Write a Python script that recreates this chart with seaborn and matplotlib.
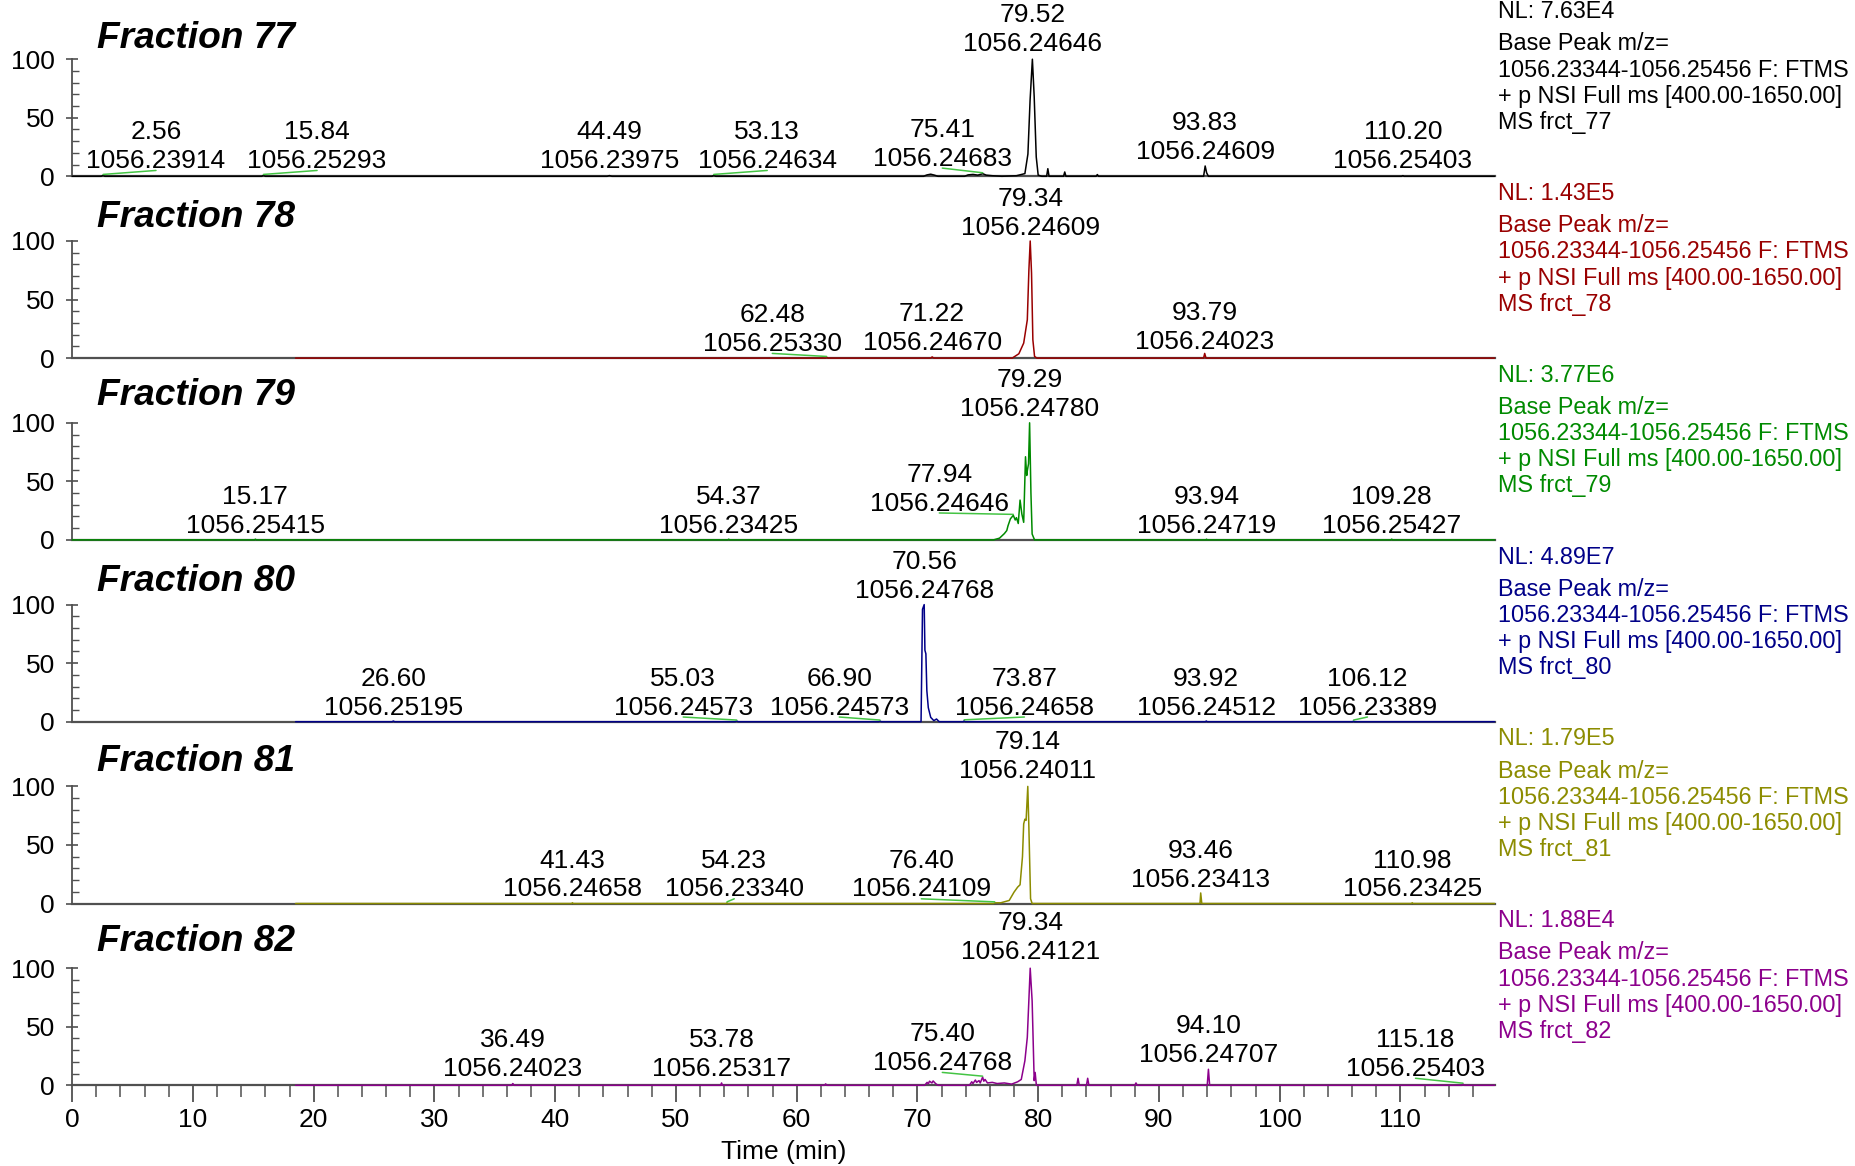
import matplotlib
matplotlib.use("Agg")
import matplotlib.pyplot as plt
from matplotlib.ticker import FixedLocator, MultipleLocator
import pandas as pd
import seaborn as sns

# ---------------------------------------------------------------------------
# Chromatogram traces (retention time in min, relative abundance in %)
# ---------------------------------------------------------------------------
f77_time = [0, 2.4, 2.56, 2.7, 15.7, 15.84, 16.0, 44.3, 44.49, 44.7, 53.0, 53.13, 53.3,
            70.5, 70.8, 71.1, 71.4, 71.7, 73.9, 74.2, 74.6, 75.0, 75.41, 75.7, 76.2, 77.0,
            78.2, 78.9, 79.15, 79.33, 79.52, 79.67, 79.84, 80.0, 80.3, 80.7, 80.8, 80.9,
            82.1, 82.2, 82.3, 84.8, 84.9, 85.0, 93.7, 93.83, 93.95, 94.1,
            110.1, 110.2, 110.3, 117.8]
f77_int = [0, 0, 0.8, 0, 0, 0.8, 0, 0, 0.6, 0, 0, 0.8, 0,
           0, 1.2, 1.8, 1.0, 0, 0, 1.2, 1.6, 1.0, 2.2, 1.0, 0.5, 0,
           0.5, 2.3, 19, 65, 100, 68, 16.5, 1, 0, 0, 6.5, 0,
           0, 3.7, 0, 0, 1.5, 0, 0, 8.8, 3, 0,
           0, 0.6, 0, 0]

f78_time = [18.5, 62.4, 62.48, 62.6, 71.1, 71.22, 71.35, 77.85, 78.4, 78.8, 79.1, 79.23,
            79.34, 79.45, 79.56, 79.7, 79.9, 93.7, 93.79, 93.9, 117.8]
f78_int = [0, 0, 0.6, 0, 0, 1.0, 0, 0, 3.7, 12.8, 32.7, 75,
           100, 72.6, 15.6, 1.4, 0, 0, 4, 0, 0]

f79_time = [0, 15.1, 15.17, 15.25, 54.3, 54.37, 54.45, 76.3, 76.8, 77.2, 77.4, 77.5, 77.7,
            77.94, 78.1, 78.2, 78.35, 78.5, 78.65, 78.8, 78.95, 79.05, 79.1, 79.2, 79.29,
            79.4, 79.5, 79.7, 93.9, 93.94, 94.0, 109.2, 109.28, 109.35, 117.8]
f79_int = [0, 0, 0.6, 0, 0, 0.6, 0, 0, 1.5, 5.4, 8, 12, 18,
           21, 17, 19, 14, 34, 22, 15, 71, 55, 59, 65, 100,
           40, 5, 0, 0, 0.6, 0, 0, 0.6, 0, 0]

f80_time = [18.5, 26.5, 26.60, 26.7, 54.9, 55.03, 55.15, 66.8, 66.90, 67.0, 70.3, 70.42,
            70.56, 70.62, 70.7, 70.78, 70.9, 71.1, 71.36, 71.58, 71.8, 73.8, 73.87, 73.95,
            93.85, 93.92, 94.0, 106.05, 106.12, 106.2, 117.8]
f80_int = [0, 0, 0.6, 0, 0, 0.6, 0, 0, 0.6, 0, 0, 96,
           100, 61, 58, 26.5, 12, 3.7, 0.9, 2.3, 0, 0, 0.8, 0,
           0, 0.6, 0, 0, 0.6, 0, 0]

f81_time = [18.5, 41.35, 41.43, 41.5, 54.15, 54.23, 54.3, 76.3, 76.40, 76.9, 77.6, 78.0,
            78.3, 78.5, 78.7, 78.8, 78.9, 79.0, 79.14, 79.23, 79.37, 79.5, 93.4, 93.46,
            93.55, 110.9, 110.98, 111.05, 117.8]
f81_int = [0, 0, 0.6, 0, 0, 0.6, 0, 0, 0.6, 0.6, 2.6, 9.7,
           14, 16, 40, 68, 72, 71, 100, 65, 4, 0, 0, 9,
           0, 0, 0.6, 0, 0]

f82_time = [18.5, 36.4, 36.49, 36.6, 53.7, 53.78, 53.85, 62.3, 62.4, 62.5, 70.6, 70.8, 70.9,
            71.0, 71.2, 71.3, 71.5, 71.7, 74.3, 74.5, 74.6, 74.8, 74.9, 75.1, 75.2, 75.40,
            75.5, 75.6, 75.8, 76.2, 76.6, 77.2, 77.8, 78.3, 78.6, 78.9, 79.1, 79.34, 79.5,
            79.67, 79.75, 79.85, 83.2, 83.3, 83.4, 84.0, 84.1, 84.2, 88.0, 88.1, 88.2,
            94.0, 94.10, 94.2, 115.1, 115.18, 115.3, 117.8]
f82_int = [0, 0, 1.5, 0, 0, 2, 0, 0, 1.2, 0, 0, 2.5, 1.2,
           3.5, 2, 3.7, 1.5, 0, 0, 3, 1.5, 4.5, 2.5, 4, 2, 7,
           3.5, 5, 2, 2.5, 1.5, 2, 1, 3, 5, 21, 41, 100, 72,
           4, 11, 0, 0, 6, 0, 0, 6, 0, 0, 2, 0,
           0, 13.7, 0, 0, 1, 0, 0]

# ---------------------------------------------------------------------------
# Annotated peaks: retention time and base-peak m/z
# ---------------------------------------------------------------------------
f77_rt = [2.56, 15.84, 44.49, 53.13, 75.41, 79.52, 93.83, 110.20]
f77_mz = ["1056.23914", "1056.25293", "1056.23975", "1056.24634", "1056.24683",
          "1056.24646", "1056.24609", "1056.25403"]
f78_rt = [62.48, 71.22, 79.34, 93.79]
f78_mz = ["1056.25330", "1056.24670", "1056.24609", "1056.24023"]
f79_rt = [15.17, 54.37, 77.94, 79.29, 93.94, 109.28]
f79_mz = ["1056.25415", "1056.23425", "1056.24646", "1056.24780", "1056.24719", "1056.25427"]
f80_rt = [26.60, 55.03, 66.90, 70.56, 73.87, 93.92, 106.12]
f80_mz = ["1056.25195", "1056.24573", "1056.24573", "1056.24768", "1056.24658",
          "1056.24512", "1056.23389"]
f81_rt = [41.43, 54.23, 76.40, 79.14, 93.46, 110.98]
f81_mz = ["1056.24658", "1056.23340", "1056.24109", "1056.24011", "1056.23413", "1056.23425"]
f82_rt = [36.49, 53.78, 75.40, 79.34, 94.10, 115.18]
f82_mz = ["1056.24023", "1056.25317", "1056.24768", "1056.24121", "1056.24707", "1056.25403"]

# Normalisation levels and fraction names
fractions = [77, 78, 79, 80, 81, 82]
nl_values = ["7.63E4", "1.43E5", "3.77E6", "4.89E7", "1.79E5", "1.88E4"]

# ---------------------------------------------------------------------------
# Layout: where each peak label sits (x centre in min, y of the m/z line in %)
# ---------------------------------------------------------------------------
f77_lx = [6.94, 20.28, 44.49, 57.56, 72.06, 79.52, 93.83, 110.20]
f77_ly = [15, 15, 15, 15, 17, 115, 23, 15]
f78_lx = [57.98, 71.22, 79.34, 93.79]
f78_ly = [14, 15, 113, 16]
f79_lx = [15.17, 54.37, 71.81, 79.29, 93.94, 109.28]
f79_ly = [14, 14, 33, 114, 14, 14]
f80_lx = [26.60, 50.60, 63.53, 70.56, 78.86, 93.92, 107.27]
f80_ly = [14, 14, 14, 114, 14, 14, 14]
f81_lx = [41.43, 54.83, 70.32, 79.14, 93.46, 110.98]
f81_ly = [14, 14, 14, 115, 22, 14]
f82_lx = [36.49, 53.78, 72.06, 79.34, 94.10, 111.25]
f82_ly = [16, 16, 21, 116, 28, 16]
title_y = [118, 120, 123, 120, 121, 123]

colors = ["#000000", "#990000", "#008a00", "#000088", "#8c8c00", "#8c008c"]
leader_color = "#44c444"
axis_color = "#505050"

panels = [
    (f77_time, f77_int, f77_rt, f77_mz, f77_lx, f77_ly),
    (f78_time, f78_int, f78_rt, f78_mz, f78_lx, f78_ly),
    (f79_time, f79_int, f79_rt, f79_mz, f79_lx, f79_ly),
    (f80_time, f80_int, f80_rt, f80_mz, f80_lx, f80_ly),
    (f81_time, f81_int, f81_rt, f81_mz, f81_lx, f81_ly),
    (f82_time, f82_int, f82_rt, f82_mz, f82_lx, f82_ly),
]

sns.set_theme(style="ticks")
plt.rcParams["font.family"] = ["Liberation Sans", "DejaVu Sans"]
plt.rcParams["text.color"] = "black"
plt.rcParams["axes.labelcolor"] = "black"

W, H = 1855, 1166
fig = plt.figure(figsize=(W / 100, H / 100), dpi=100)

x_left, x_right = 72.2, 1494.6
first_base, step = 176.3, 181.8
px_per_unit = 1.171
y_top = step / px_per_unit
x_max = 117.8

header_lines = ["Base Peak m/z=",
                "1056.23344-1056.25456 F: FTMS",
                "+ p NSI Full ms [400.00-1650.00]"]

for i, (t, inten, rts, mzs, lxs, lys) in enumerate(panels):
    base = first_base + i * step
    ax = fig.add_axes([x_left / W, (H - base) / H, (x_right - x_left) / W, step / H])
    df = pd.DataFrame({"Time (min)": t, "Relative Abundance": inten})
    sns.lineplot(data=df, x="Time (min)", y="Relative Abundance", ax=ax,
                 color=colors[i], linewidth=1.1, estimator=None, sort=False,
                 clip_on=False, zorder=3)
    ax.set_xlim(0, x_max)
    ax.set_ylim(0, y_top)
    ax.set_xlabel("")
    ax.set_ylabel("")
    ax.patch.set_alpha(0)

    for s in ("top", "right"):
        ax.spines[s].set_visible(False)
    ax.spines["left"].set_bounds(0, 100)
    ax.spines["left"].set_color(axis_color)
    ax.spines["left"].set_linewidth(1.3)
    ax.spines["bottom"].set_color(axis_color)
    ax.spines["bottom"].set_linewidth(1.6)
    ax.spines["bottom"].set_zorder(2)

    ax.yaxis.set_major_locator(FixedLocator([0, 50, 100]))
    ax.yaxis.set_minor_locator(FixedLocator([10, 20, 30, 40, 60, 70, 80, 90]))
    ax.tick_params(axis="y", which="major", direction="inout", length=9, width=1.2,
                   color=axis_color, labelsize=19, pad=8, labelcolor="black")
    ax.tick_params(axis="y", which="minor", direction="in", length=5, width=1.0,
                   color=axis_color)

    if i < len(panels) - 1:
        ax.tick_params(axis="x", which="both", length=0, labelbottom=False)
    else:
        ax.xaxis.set_major_locator(MultipleLocator(10))
        ax.xaxis.set_minor_locator(MultipleLocator(2))
        ax.tick_params(axis="x", which="major", direction="out", length=12, width=1.3,
                       color=axis_color, labelsize=19, pad=4, labelcolor="black")
        ax.tick_params(axis="x", which="minor", direction="out", length=8.5, width=1.1,
                       color=axis_color)
        ax.set_xlabel("Time (min)", fontsize=19, labelpad=6, color="black")

    # Fraction title
    ax.text(2.05, title_y[i], f"Fraction {fractions[i]}", fontsize=26.7, fontweight="bold",
            fontstyle="italic", ha="left", va="center", color="black", clip_on=False)

    # Peak labels and leader lines
    for rt, mz, lx, ly in zip(rts, mzs, lxs, lys):
        ax.text(lx, ly - 2, mz, fontsize=19, ha="center", va="center", color="black",
                clip_on=False, zorder=4)
        ax.text(lx, ly + 22.5, f"{rt:.2f}", fontsize=19, ha="center", va="center",
                color="black", clip_on=False, zorder=4)
        if abs(lx - rt) > 0.5:
            apex = 0.0
            for tt, vv in zip(t, inten):
                if abs(tt - rt) < 1e-6:
                    apex = vv
            ax.plot([lx, rt], [ly - 10, apex + 0.8], color=leader_color, linewidth=1.1,
                    clip_on=False, zorder=4)

    # Scan header block on the right
    tx = 118.05
    ax.text(tx, 140.5, f"NL: {nl_values[i]}", fontsize=16.8, color=colors[i],
            ha="left", va="center", clip_on=False)
    for k, line in enumerate(header_lines + [f"MS frct_{fractions[i]}"]):
        ax.text(tx, 113 - k * 22.3, line, fontsize=16.8, color=colors[i],
                ha="left", va="center", clip_on=False)

fig.savefig("out.png", dpi=100)
